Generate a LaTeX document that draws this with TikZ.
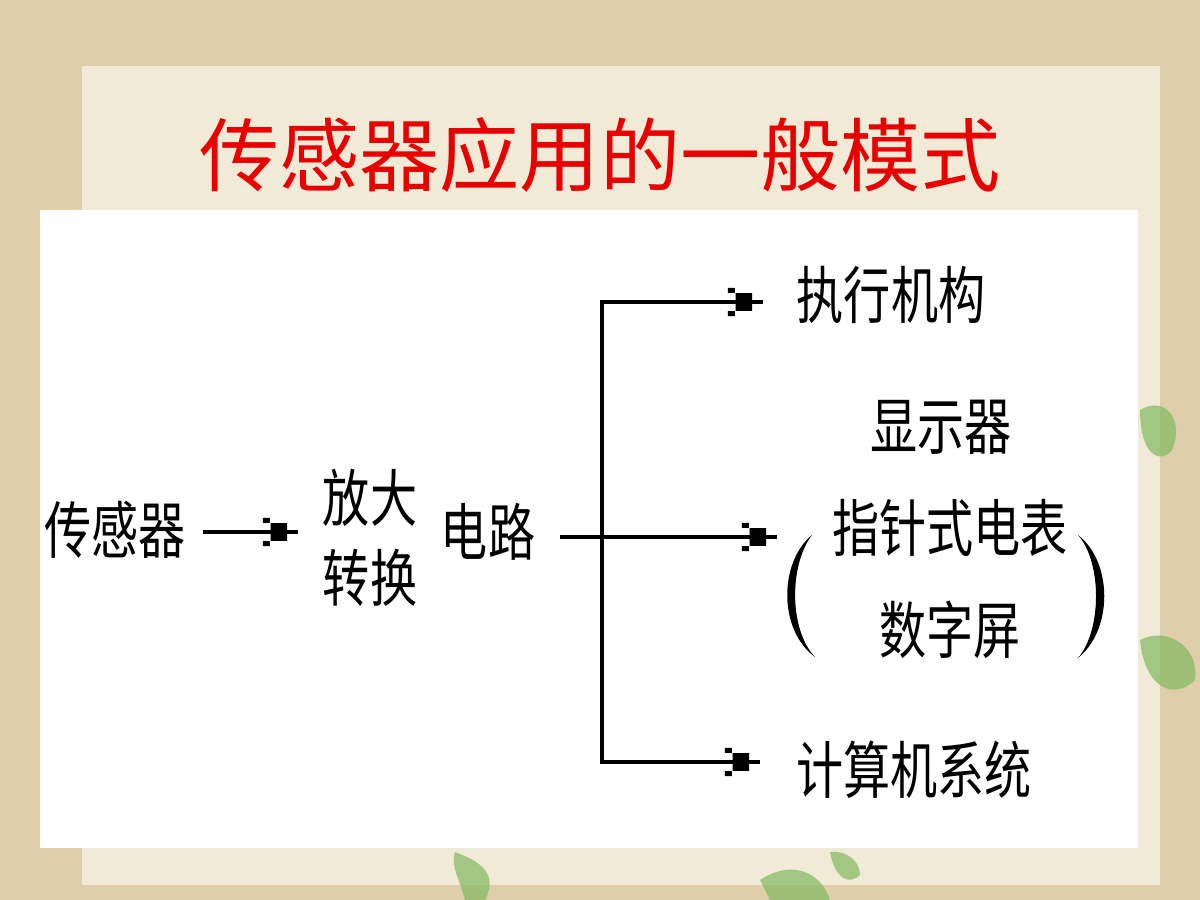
\documentclass[tikz,border=0pt]{standalone}
\usepackage{fontspec}
\usepackage{graphicx}
\newfontfamily\cjk{Noto Sans CJK SC}
\usetikzlibrary{arrows.meta}
\definecolor{framebg}{RGB}{222,206,170}
\definecolor{innerbg}{RGB}{240,234,214}
\definecolor{titlered}{RGB}{232,0,0}
\definecolor{leaf}{RGB}{130,185,95}
\newcommand\vstretch[1]{\scalebox{1}[1.32]{#1}}
\pgfdeclarearrow{
  name=chip,
  setup code={
    \pgfarrowssettipend{0pt}
    \pgfarrowssetlineend{0pt}
    \pgfarrowssetbackend{-10pt}
    \pgfarrowshullpoint{0pt}{0pt}
    \pgfarrowsupperhullpoint{-10pt}{4pt}
  },
  drawing code={
    \pgfpathrectangle{\pgfpoint{-7.8pt}{-2.5pt}}{\pgfpoint{4.7pt}{5pt}}
    \pgfpathrectangle{\pgfpoint{-10pt}{2.6pt}}{\pgfpoint{2pt}{1.4pt}}
    \pgfpathrectangle{\pgfpoint{-10pt}{-4.0pt}}{\pgfpoint{2pt}{1.4pt}}
    \pgfusepathqfill
  }
}
\tikzset{
  txt/.style={font=\cjk\fontsize{13.4pt}{15pt}\selectfont, inner sep=0pt, text=black},
  ttl/.style={font=\cjk\fontsize{22.8pt}{26pt}\selectfont, inner sep=0pt, text=titlered},
  conn/.style={draw=black, line width=1.3pt, -chip},
  paren/.style={fill=black},
  leafshape/.style={fill=leaf, opacity=0.7}
}
\begin{document}
\begin{tikzpicture}[x=0.1mm,y=-0.1mm]
\useasboundingbox (0,0) rectangle (1200,900);
% background
\fill[framebg] (0,0) rectangle (1200,900);
\fill[innerbg] (82,66) rectangle (1160,885);
% leaves
\fill[leafshape] (1140,410) .. controls (1165,395) and (1185,420) .. (1172,450) .. controls (1160,465) and (1140,455) .. cycle;
\fill[leafshape] (1140,640) .. controls (1170,625) and (1200,650) .. (1195,680) .. controls (1175,700) and (1145,690) .. cycle;
\fill[leafshape] (455,852) .. controls (475,860) and (500,870) .. (485,900) -- (465,900) .. controls (460,880) and (450,865) .. cycle;
\fill[leafshape] (830,852) .. controls (845,850) and (860,860) .. (860,875) .. controls (850,885) and (835,880) .. cycle;
\fill[leafshape] (760,880) .. controls (790,860) and (820,870) .. (830,900) -- (770,900) -- cycle;
% white panel
\fill[white] (40,210) rectangle (1138,848);
% title
\node[ttl] (title) at (600,155) {传感器应用的一般模式};
% text nodes
\node[txt] (cgq) at (115,530) {\vstretch{传感器}};
\node[txt] (fd) at (370,498) {\vstretch{放大}};
\node[txt] (zh) at (370,578) {\vstretch{转换}};
\node[txt] (dl) at (488,532) {\vstretch{电路}};
\node[txt] (zx) at (891,295) {\vstretch{执行机构}};
\node[txt] (xs) at (941,427) {\vstretch{显示器}};
\node[txt] (zz) at (950,528) {\vstretch{指针式电表}};
\node[txt] (sz) at (950,630) {\vstretch{数字屏}};
\node[txt] (js) at (914,770) {\vstretch{计算机系统}};
% connector coordinates
\coordinate (a1s) at (203,532);
\coordinate (a1e) at (298,532);
\coordinate (ms) at (560,537);
\coordinate (jc) at (602,537);
\coordinate (t1) at (763,302);
\coordinate (t2) at (777,537);
\coordinate (t3) at (760,762);
% connectors
\draw[conn] (a1s) -- (a1e);
\draw[conn] (ms) -- (t2);
\draw[conn] (jc) |- (t1);
\draw[conn] (jc) |- (t3);
% parentheses
\fill[paren] (812,535) .. controls (779,562) and (778,630) .. (815,657)
  .. controls (789,630) and (789,565) .. cycle;
\fill[paren] (1078,535) .. controls (1113,562) and (1113,630) .. (1078,658)
  .. controls (1102,630) and (1102,562) .. cycle;
\end{tikzpicture}
\end{document}
